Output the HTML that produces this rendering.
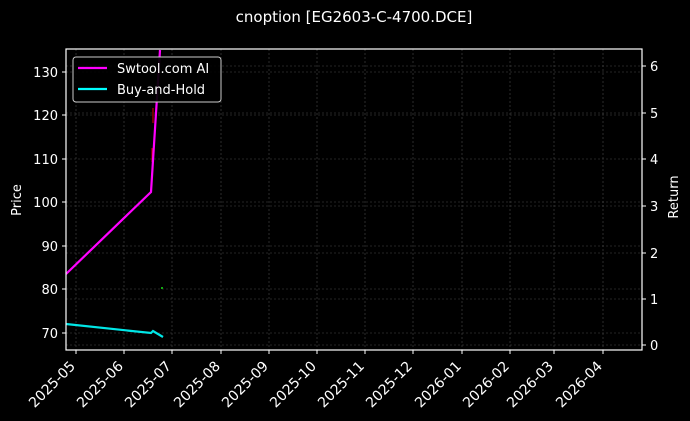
<!DOCTYPE html>
<html><head><meta charset="utf-8"><style>
html,body{margin:0;padding:0;background:#000;}
svg{display:block;font-family:"DejaVu Sans","Liberation Sans",sans-serif;}
</style></head><body>
<svg width="690" height="421" viewBox="0 0 690 421" xmlns="http://www.w3.org/2000/svg">
<rect width="690" height="421" fill="#000"/>
<text x="354" y="22" fill="#fff" font-size="15" text-anchor="middle">cnoption [EG2603-C-4700.DCE]</text>
<g stroke="#4a4a4a" stroke-width="0.6" stroke-dasharray="2,2">
<line x1="76" y1="49" x2="76" y2="350"/><line x1="124" y1="49" x2="124" y2="350"/><line x1="172" y1="49" x2="172" y2="350"/><line x1="221" y1="49" x2="221" y2="350"/><line x1="269" y1="49" x2="269" y2="350"/><line x1="317" y1="49" x2="317" y2="350"/><line x1="365" y1="49" x2="365" y2="350"/><line x1="413" y1="49" x2="413" y2="350"/><line x1="462" y1="49" x2="462" y2="350"/><line x1="510" y1="49" x2="510" y2="350"/><line x1="554" y1="49" x2="554" y2="350"/><line x1="603" y1="49" x2="603" y2="350"/>
<line x1="66" y1="72" x2="642" y2="72"/><line x1="66" y1="115" x2="642" y2="115"/><line x1="66" y1="159" x2="642" y2="159"/><line x1="66" y1="202" x2="642" y2="202"/><line x1="66" y1="246" x2="642" y2="246"/><line x1="66" y1="289" x2="642" y2="289"/><line x1="66" y1="333" x2="642" y2="333"/>
<line x1="66" y1="66" x2="642" y2="66"/><line x1="66" y1="113" x2="642" y2="113"/><line x1="66" y1="206" x2="642" y2="206"/><line x1="66" y1="253" x2="642" y2="253"/><line x1="66" y1="299" x2="642" y2="299"/><line x1="66" y1="345" x2="642" y2="345"/>
</g>
<line x1="153" y1="108" x2="153" y2="123" stroke="#d00" stroke-width="1"/>
<line x1="152" y1="148" x2="152" y2="162" stroke="#d00" stroke-width="1"/>
<rect x="161" y="287" width="2" height="2" fill="#1a1"/>
<polyline points="66,274 151,192 160,50" fill="none" stroke="#f0f" stroke-width="2.2"/>
<polyline points="66,324 151,333 153,331 163,337" fill="none" stroke="#0ff" stroke-width="2.2" opacity="0.9"/>
<rect x="66" y="49" width="576" height="301" fill="none" stroke="#fff" stroke-width="1.2"/>
<g stroke="#fff" stroke-width="1">
<line x1="62" y1="72" x2="66" y2="72"/><line x1="62" y1="115" x2="66" y2="115"/><line x1="62" y1="159" x2="66" y2="159"/><line x1="62" y1="202" x2="66" y2="202"/><line x1="62" y1="246" x2="66" y2="246"/><line x1="62" y1="289" x2="66" y2="289"/><line x1="62" y1="333" x2="66" y2="333"/>
<line x1="642" y1="66" x2="646" y2="66"/><line x1="642" y1="113" x2="646" y2="113"/><line x1="642" y1="159" x2="646" y2="159"/><line x1="642" y1="206" x2="646" y2="206"/><line x1="642" y1="253" x2="646" y2="253"/><line x1="642" y1="299" x2="646" y2="299"/><line x1="642" y1="345" x2="646" y2="345"/>
<line x1="76" y1="350" x2="76" y2="354"/><line x1="124" y1="350" x2="124" y2="354"/><line x1="172" y1="350" x2="172" y2="354"/><line x1="221" y1="350" x2="221" y2="354"/><line x1="269" y1="350" x2="269" y2="354"/><line x1="317" y1="350" x2="317" y2="354"/><line x1="365" y1="350" x2="365" y2="354"/><line x1="413" y1="350" x2="413" y2="354"/><line x1="462" y1="350" x2="462" y2="354"/><line x1="510" y1="350" x2="510" y2="354"/><line x1="554" y1="350" x2="554" y2="354"/><line x1="603" y1="350" x2="603" y2="354"/>
</g>
<g fill="#fff" font-size="13" text-anchor="end">
<text x="58" y="77">130</text><text x="58" y="120">120</text><text x="58" y="164">110</text><text x="58" y="207">100</text><text x="58" y="251">90</text><text x="58" y="294">80</text><text x="58" y="338">70</text>
</g>
<g fill="#fff" font-size="13">
<text x="650" y="71">6</text><text x="650" y="118">5</text><text x="650" y="164">4</text><text x="650" y="211">3</text><text x="650" y="258">2</text><text x="650" y="304">1</text><text x="650" y="350">0</text>
</g>
<text transform="translate(21,200) rotate(-90)" fill="#fff" font-size="13" text-anchor="middle">Price</text>
<text transform="translate(678,197) rotate(-90)" fill="#fff" font-size="13" text-anchor="middle">Return</text>
<g fill="#fff" font-size="14" text-anchor="end">
<text transform="translate(76,367) rotate(-45)">2025-05</text>
<text transform="translate(124,367) rotate(-45)">2025-06</text>
<text transform="translate(172,367) rotate(-45)">2025-07</text>
<text transform="translate(221,367) rotate(-45)">2025-08</text>
<text transform="translate(269,367) rotate(-45)">2025-09</text>
<text transform="translate(317,367) rotate(-45)">2025-10</text>
<text transform="translate(365,367) rotate(-45)">2025-11</text>
<text transform="translate(413,367) rotate(-45)">2025-12</text>
<text transform="translate(462,367) rotate(-45)">2026-01</text>
<text transform="translate(510,367) rotate(-45)">2026-02</text>
<text transform="translate(554,367) rotate(-45)">2026-03</text>
<text transform="translate(603,367) rotate(-45)">2026-04</text>
</g>
<rect x="73" y="57" width="148" height="45" rx="3" fill="#000" fill-opacity="0.92" stroke="#ccc" stroke-width="1"/>
<line x1="78" y1="68" x2="107" y2="68" stroke="#f0f" stroke-width="2.2"/>
<line x1="78" y1="89" x2="107" y2="89" stroke="#0ff" stroke-width="2.2"/>
<text x="117" y="73" fill="#fff" font-size="13">Swtool.com AI</text>
<text x="117" y="94" fill="#fff" font-size="13">Buy-and-Hold</text>
</svg>
</body></html>
